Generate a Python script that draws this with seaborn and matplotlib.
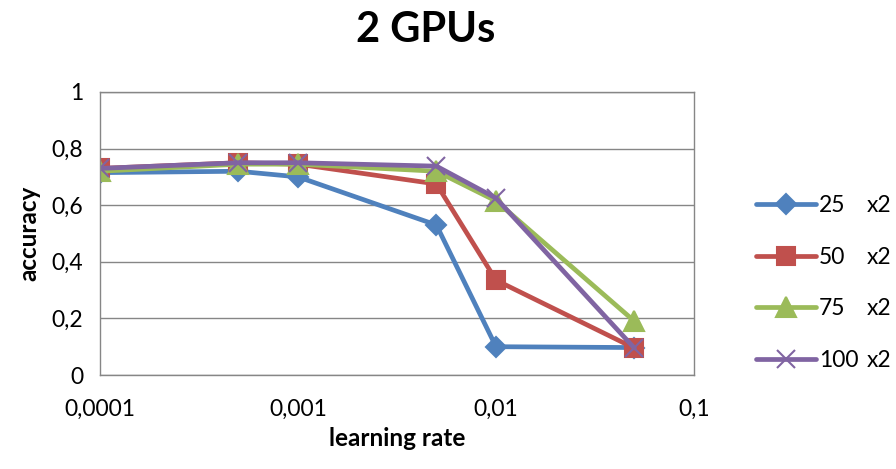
import pandas as pd
import seaborn as sns
import matplotlib.pyplot as plt
from matplotlib.ticker import FuncFormatter, FixedLocator

learning_rates = [0.0001, 0.0005, 0.001, 0.005, 0.01, 0.05]
batch_labels = ['25', '50', '75', '100']
gpu_suffix = 'x2'
acc_25 = [0.715, 0.72, 0.70, 0.53, 0.10, 0.097]
acc_50 = [0.73, 0.75, 0.745, 0.675, 0.335, 0.095]
acc_75 = [0.72, 0.745, 0.745, 0.72, 0.615, 0.19]
acc_100 = [0.73, 0.75, 0.75, 0.738, 0.625, 0.095]

palette = ['#4F81BD', '#C0504D', '#9BBB59', '#8064A2']
markers = ['D', 's', '^', 'x']
msizes = [10, 13, 14, 13]

sns.set_style('white')
plt.rcParams['font.family'] = ['Lato', 'DejaVu Sans']
plt.rcParams['text.color'] = 'black'
plt.rcParams['xtick.color'] = 'black'
plt.rcParams['ytick.color'] = 'black'
plt.rcParams['axes.labelcolor'] = 'black'

fig = plt.figure(figsize=(8.96, 4.69), dpi=100)
ax = fig.add_axes([100 / 896, 1 - 375 / 469, 594 / 896, 283 / 469])

for lab, vals, c, m, ms in zip(batch_labels, [acc_25, acc_50, acc_75, acc_100],
                               palette, markers, msizes):
    d = pd.DataFrame({'lr': learning_rates, 'accuracy': vals})
    sns.lineplot(data=d, x='lr', y='accuracy', color=c, marker=m, markersize=ms,
                 markeredgecolor=c, markeredgewidth=1.5, linewidth=3.4, label=lab, ax=ax)

ax.set_xscale('log')
ax.set_xlim(0.0001, 0.1)
ax.set_ylim(0, 1)
ax.xaxis.set_major_locator(FixedLocator([0.0001, 0.001, 0.01, 0.1]))
ax.xaxis.set_minor_locator(FixedLocator([]))
ax.xaxis.set_major_formatter(FuncFormatter(lambda v, p: f'{v:.4f}'.rstrip('0').replace('.', ',')))
ax.set_yticks([0, 0.2, 0.4, 0.6, 0.8, 1])
ax.yaxis.set_major_formatter(FuncFormatter(lambda v, p: f'{v:g}'.replace('.', ',')))
ax.grid(axis='y', color='#868686', linewidth=1)
for s in ax.spines.values():
    s.set_color('#868686')
    s.set_linewidth(1)
ax.tick_params(axis='both', labelsize=16.5, length=0, pad=12)
ax.tick_params(axis='x', pad=17)

ax.set_xlabel('learning rate', fontsize=17.5, fontweight='bold', labelpad=5)
ax.set_ylabel('accuracy', fontsize=17.5, fontweight='bold', labelpad=8)
fig.text(426 / 896, 1 - 30 / 469, '2 GPUs', fontsize=30, fontweight='bold',
         ha='center', va='center')

leg = ax.legend(loc='center left', bbox_to_anchor=(1.07, 0.325), frameon=False,
                fontsize=16.5, handlelength=2.6, labelspacing=1.35, handletextpad=0.15)

# second part of each legend entry ("x2"), aligned in its own column
fig.canvas.draw()
for t in leg.get_texts():
    bb = t.get_window_extent()
    yc = (bb.y0 + bb.y1) / 2 / fig.bbox.height
    fig.text(867 / 896, yc, gpu_suffix, fontsize=16.5, ha='left', va='center')

fig.savefig('out.png', dpi=100)
